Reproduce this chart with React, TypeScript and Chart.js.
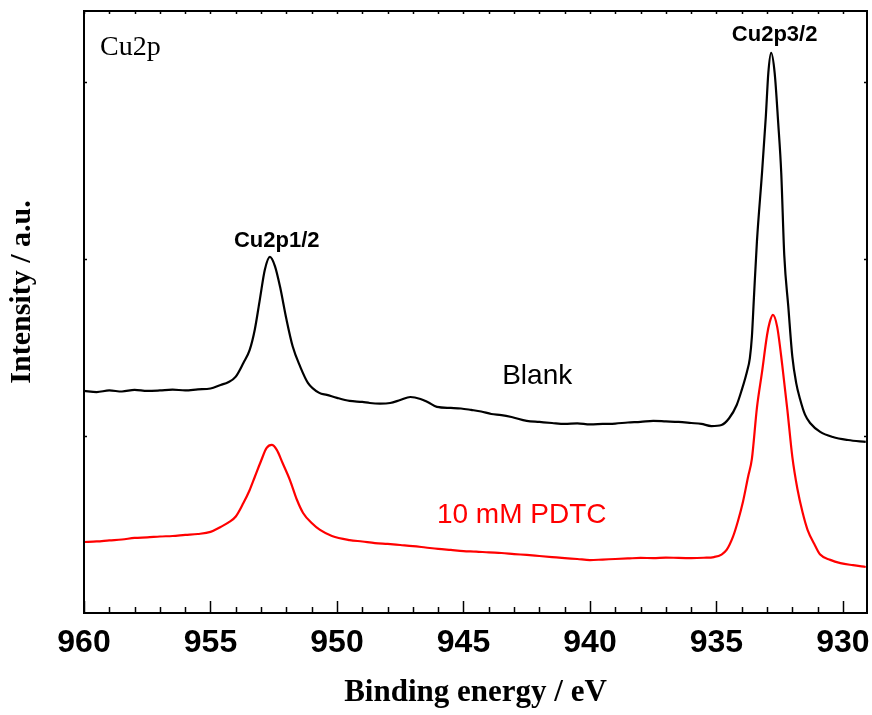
import React, { useEffect, useRef } from "react";
import { Chart, registerables } from "chart.js";

Chart.register(...registerables);

// Binding energy (eV) and intensity (a.u.) for the Blank sample
const blankEnergy = [
  960, 959.5, 959, 958.5, 958, 957.5, 957, 956.5, 956, 955.5, 955, 954.6, 954.3, 954.0, 953.7,
  953.45, 953.25, 953.05, 952.85, 952.65, 952.45, 952.25, 952.0, 951.75, 951.45, 951.15, 950.7,
  950.4, 950.0, 949.5, 949.0, 948.7, 948.3, 947.9, 947.5, 947.1, 946.7, 946.4, 946.05, 945.5,
  945.1, 944.7, 944.3, 943.9, 943.5, 943.1, 942.5, 942.0, 941.5, 941.0, 940.5, 940.0, 939.5,
  939.0, 938.5, 938.0, 937.5, 937.0, 936.5, 936.0, 935.6, 935.2, 934.8, 934.5, 934.2, 934.0,
  933.8, 933.68, 933.6, 933.52, 933.4, 933.2, 933.05, 932.95, 932.84, 932.7, 932.56, 932.44,
  932.32, 932.16, 932.0, 931.85, 931.7, 931.5, 931.3, 930.9, 930.4, 929.8, 929.1,
];
const blankIntensity = [
  1.254, 1.248, 1.257, 1.251, 1.26, 1.254, 1.257, 1.262, 1.257, 1.263, 1.268, 1.288, 1.303, 1.335,
  1.412, 1.486, 1.6, 1.77, 1.94, 2.011, 1.958, 1.842, 1.66, 1.505, 1.39, 1.3, 1.243, 1.232, 1.215,
  1.198, 1.192, 1.186, 1.183, 1.186, 1.203, 1.22, 1.209, 1.19, 1.164, 1.158, 1.155, 1.147, 1.138,
  1.124, 1.118, 1.107, 1.085, 1.079, 1.073, 1.068, 1.071, 1.065, 1.068, 1.07, 1.076, 1.079, 1.085,
  1.082, 1.079, 1.073, 1.068, 1.056, 1.062, 1.1, 1.175, 1.26, 1.36, 1.44, 1.56, 1.78, 2.1, 2.486,
  2.802, 3.051, 3.164, 3.051, 2.768, 2.486, 2.02, 1.729, 1.446, 1.3, 1.21, 1.12, 1.073, 1.023,
  0.994, 0.977, 0.966,
];

// Binding energy (eV) and intensity (a.u.) for the 10 mM PDTC sample
const pdtcEnergy = [
  960, 959.5, 959, 958.5, 958, 957.5, 957, 956.5, 956, 955.5, 955, 954.6, 954.3, 954.0, 953.7,
  953.45, 953.25, 953.0, 952.78, 952.58, 952.38, 952.15, 951.86, 951.58, 951.34, 951.0, 950.67,
  950.2, 949.5, 949.0, 948.5, 948.0, 947.5, 947.0, 946.5, 946.0, 945.5, 945.0, 944.5, 944.0,
  943.5, 943.0, 942.5, 942.0, 941.5, 941.0, 940.5, 940.0, 939.5, 939.0, 938.5, 938.0, 937.5,
  937.0, 936.5, 936.0, 935.5, 935.1, 934.8, 934.6, 934.35, 934.15, 933.95, 933.75, 933.6,
  933.4, 933.2, 933.0, 932.9, 932.77, 932.6, 932.4, 932.2, 932.0, 931.8, 931.6, 931.4, 931.1,
  930.9, 930.5, 930.1, 929.6, 929.1,
];
const pdtcIntensity = [
  0.401, 0.404, 0.41, 0.415, 0.424, 0.427, 0.432, 0.435, 0.441, 0.446, 0.458, 0.486, 0.51, 0.545,
  0.621, 0.695, 0.768, 0.86, 0.932, 0.949, 0.921, 0.847, 0.751, 0.638, 0.565, 0.508, 0.469, 0.435,
  0.412, 0.404, 0.395, 0.39, 0.384, 0.378, 0.37, 0.362, 0.356, 0.35, 0.347, 0.342, 0.339, 0.333,
  0.328, 0.322, 0.316, 0.31, 0.305, 0.299, 0.302, 0.305, 0.308, 0.311, 0.31, 0.313, 0.311, 0.31,
  0.312, 0.316, 0.33, 0.356, 0.43, 0.52, 0.63, 0.77, 0.87, 1.16, 1.36, 1.57, 1.64, 1.684, 1.616,
  1.4, 1.15, 0.88, 0.7, 0.57, 0.47, 0.38, 0.33, 0.3, 0.282, 0.27, 0.26,
];

const xTickValues = [960, 955, 950, 945, 940, 935, 930];
const yTickValues = [1, 2, 3];
const seriesNames = ["Blank", "10 mM PDTC"];

const toPoints = (xs: number[], ys: number[]) => xs.map((x, i) => ({ x, y: ys[i] }));

const framePlugin = {
  id: "framePlugin",
  afterDraw(chart: any) {
    const { ctx, chartArea: a, scales } = chart;
    const xs = scales.x;
    const ys = scales.y;
    ctx.save();
    ctx.strokeStyle = "#000";
    ctx.lineWidth = 2;
    ctx.strokeRect(a.left, a.top, a.right - a.left, a.bottom - a.top);
    ctx.lineWidth = 1.5;
    const line = (x1: number, y1: number, x2: number, y2: number) => {
      ctx.beginPath();
      ctx.moveTo(x1, y1);
      ctx.lineTo(x2, y2);
      ctx.stroke();
    };
    for (let e = 930; e <= 960; e++) {
      const x = Math.round(xs.getPixelForValue(e)) + 0.5;
      const major = e % 5 === 0;
      line(x, a.bottom, x, a.bottom - (major ? 12 : 6));
      line(x, a.top, x, a.top + 3);
    }
    yTickValues.forEach((v) => {
      const y = Math.round(ys.getPixelForValue(v)) + 0.5;
      line(a.left, y, a.left + 3, y);
      line(a.right, y, a.right - 3, y);
    });

    ctx.fillStyle = "#000";
    // y-axis title
    ctx.save();
    ctx.translate(22, 292);
    ctx.rotate(-Math.PI / 2);
    ctx.textAlign = "center";
    ctx.textBaseline = "middle";
    ctx.font = "bold 30px 'Liberation Serif'";
    ctx.fillText("Intensity / a.u.", 0, 0);
    ctx.restore();

    ctx.textBaseline = "alphabetic";
    ctx.textAlign = "left";
    ctx.font = "28px 'Liberation Serif'";
    ctx.fillText("Cu2p", a.left + 16, a.top + 44);

    ctx.textAlign = "center";
    ctx.font = "bold 22px 'Liberation Sans'";
    ctx.fillText("Cu2p3/2", xs.getPixelForValue(932.7), ys.getPixelForValue(3.232));
    ctx.fillText("Cu2p1/2", xs.getPixelForValue(952.38), ys.getPixelForValue(2.068));

    ctx.textAlign = "left";
    ctx.font = "28px 'Liberation Sans'";
    ctx.fillText(seriesNames[0], xs.getPixelForValue(943.47), ys.getPixelForValue(1.294));
    ctx.fillStyle = "#ff0000";
    ctx.fillText(seriesNames[1], xs.getPixelForValue(946.05), ys.getPixelForValue(0.508));
    ctx.restore();
  },
};

export default function App() {
  const canvasRef = useRef<HTMLCanvasElement | null>(null);

  useEffect(() => {
    if (!canvasRef.current) return;
    const chart = new Chart(canvasRef.current, {
      type: "line",
      data: {
        datasets: [
          {
            label: seriesNames[0],
            data: toPoints(blankEnergy, blankIntensity),
            borderColor: "#000000",
            borderWidth: 2.2,
            pointRadius: 0,
            fill: false,
            cubicInterpolationMode: "monotone",
          },
          {
            label: seriesNames[1],
            data: toPoints(pdtcEnergy, pdtcIntensity),
            borderColor: "#ff0000",
            borderWidth: 2.2,
            pointRadius: 0,
            fill: false,
            cubicInterpolationMode: "monotone",
          },
        ],
      },
      options: {
        animation: false,
        responsive: true,
        maintainAspectRatio: false,
        layout: { padding: { top: 11, right: 5, left: 0, bottom: 0 } },
        plugins: { legend: { display: false }, tooltip: { enabled: false } },
        scales: {
          x: {
            type: "linear",
            reverse: true,
            min: 929.05,
            max: 960,
            afterBuildTicks: (s: any) => {
              s.ticks = xTickValues.map((value) => ({ value }));
            },
            afterFit: (s: any) => {
              s.height = 102;
              s.paddingLeft = 0;
              s.paddingRight = 0;
            },
            ticks: {
              color: "#000",
              padding: 11,
              maxRotation: 0,
              autoSkip: false,
              font: { family: "'Liberation Sans'", size: 32, weight: "bold" },
              callback: (v: any) => String(v),
            },
            grid: { display: false, drawTicks: false },
            border: { display: false },
            title: {
              display: true,
              text: "Binding energy / eV",
              color: "#000",
              font: { family: "'Liberation Serif'", size: 31, weight: "bold" },
              padding: { top: 0, bottom: 3 },
            },
          },
          y: {
            type: "linear",
            min: 0,
            max: 3.4,
            afterBuildTicks: (s: any) => {
              s.ticks = yTickValues.map((value) => ({ value }));
            },
            afterFit: (s: any) => {
              s.width = 84;
              s.paddingTop = 0;
              s.paddingBottom = 0;
            },
            ticks: { display: false },
            grid: { display: false, drawTicks: false },
            border: { display: false },
            title: { display: false },
          },
        },
      },
      plugins: [framePlugin],
    });
    return () => chart.destroy();
  }, []);

  return (
    <div style={{ position: "fixed", left: 0, top: 0, width: 872, height: 715, background: "#fff" }}>
      <canvas ref={canvasRef} />
    </div>
  );
}
